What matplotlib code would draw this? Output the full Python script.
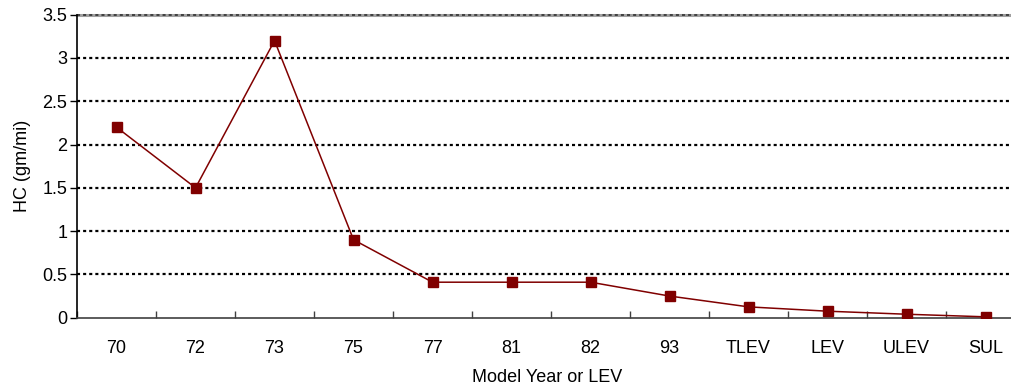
import matplotlib
matplotlib.use("Agg")
import matplotlib.pyplot as plt
import numpy as np

plt.rcParams['font.family'] = ['Liberation Sans', 'DejaVu Sans']
plt.rcParams['lines.scale_dashes'] = False

categories = ["70", "72", "73", "75", "77", "81", "82", "93", "TLEV", "LEV", "ULEV", "SUL"]
hc_values = [2.2, 1.5, 3.2, 0.9, 0.41, 0.41, 0.41, 0.25, 0.125, 0.075, 0.04, 0.01]
y_ticks = [0, 0.5, 1, 1.5, 2, 2.5, 3, 3.5]
y_tick_labels = ["0", "0.5", "1", "1.5", "2", "2.5", "3", "3.5"]

FS = 13

fig = plt.figure(figsize=(10.11, 3.88), dpi=100)
ax = fig.add_axes([0.0762, 0.1812, 0.9377, 0.781])

x = np.arange(len(categories))
ax.set_xlim(-0.5, len(categories) - 0.5)
ax.set_ylim(0, 3.5)

# horizontal dotted gridlines
for yv in y_ticks[1:]:
    if yv == 3.5:
        ax.axhline(yv, color="#a0a0a0", lw=2.2, zorder=1, clip_on=False)
        ax.axhline(yv, color="#303030", lw=1.2, linestyle=(0, (2.2, 2.2)), zorder=2, clip_on=False)
    else:
        ax.axhline(yv, color="black", lw=1.6, linestyle=(0, (2.2, 2.2)), zorder=2, clip_on=False)

ax.plot(x, hc_values, color="#800000", lw=1.1, marker="s", markersize=7.2,
        markerfacecolor="#800000", markeredgecolor="#800000", zorder=3)

ax.set_yticks(y_ticks)
ax.set_yticklabels(y_tick_labels, fontsize=FS)
ax.tick_params(axis="y", direction="out", length=5, width=1, pad=2)

# category labels centred, tick marks between categories
ax.set_xticks(np.arange(len(categories) + 1) - 0.5)
ax.set_xticklabels([])
ax.set_xticks(x, minor=True)
ax.set_xticklabels(categories, minor=True, fontsize=FS)
ax.tick_params(axis="x", which="major", direction="in", length=5, width=1, color="#404040")
ax.tick_params(axis="x", which="minor", length=0, pad=16)

for s in ["top", "right"]:
    ax.spines[s].set_visible(False)
ax.spines["left"].set_color("black")
ax.spines["left"].set_linewidth(1.2)
ax.spines["bottom"].set_color("#404040")
ax.spines["bottom"].set_linewidth(1.2)

ax.set_ylabel("HC (gm/mi)", fontsize=FS, labelpad=8)
fig.text(0.541, 0.026, "Model Year or LEV", ha="center", va="center", fontsize=FS)

fig.savefig("out.png", dpi=100)
